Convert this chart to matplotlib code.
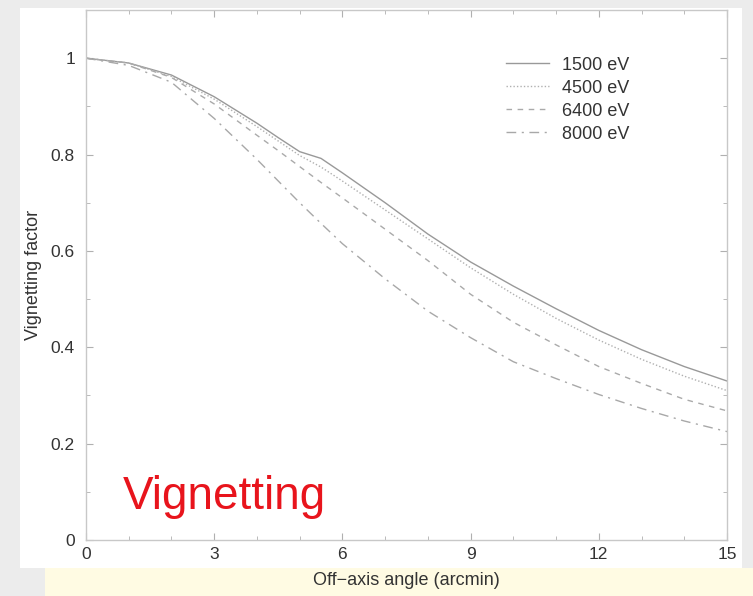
import numpy as np
import matplotlib
matplotlib.use("Agg")
import matplotlib.pyplot as plt
from matplotlib.patches import Rectangle
from matplotlib.ticker import MultipleLocator, FuncFormatter

# off-axis angle (arcmin)
angle = [0, 1, 2, 3, 4, 4.5, 5, 5.5, 6, 7, 8, 9, 10, 11, 12, 13, 14, 15]

# vignetting factor for each energy
vig_1500 = [1.0, 0.99, 0.965, 0.92, 0.865, 0.835, 0.806, 0.792, 0.762, 0.70, 0.635, 0.577,
            0.527, 0.48, 0.435, 0.395, 0.36, 0.33]
vig_4500 = [1.0, 0.99, 0.962, 0.915, 0.858, 0.828, 0.798, 0.774, 0.745, 0.685, 0.625, 0.565,
            0.51, 0.46, 0.415, 0.375, 0.34, 0.31]
vig_6400 = [1.0, 0.99, 0.96, 0.905, 0.84, 0.808, 0.775, 0.742, 0.71, 0.645, 0.58, 0.51,
            0.452, 0.405, 0.36, 0.325, 0.292, 0.268]
vig_8000 = [1.0, 0.985, 0.95, 0.875, 0.79, 0.745, 0.70, 0.657, 0.615, 0.542, 0.475, 0.42,
            0.37, 0.335, 0.302, 0.273, 0.247, 0.225]

labels = ["1500 eV", "4500 eV", "6400 eV", "8000 eV"]

plt.rcParams['font.family'] = ['Liberation Sans', 'DejaVu Sans']

fig = plt.figure(figsize=(7.53, 5.96), dpi=100, facecolor='#ececec')

# slide-like backdrop: white page and pale yellow strip at the bottom
fig.patches.append(Rectangle((20 / 753, 1 - 568 / 596), 722 / 753, 560 / 596,
                             transform=fig.transFigure, facecolor='white',
                             edgecolor='none', zorder=-2))
fig.patches.append(Rectangle((45 / 753, 0), 708 / 753, 28 / 596,
                             transform=fig.transFigure, facecolor='#fffbe3',
                             edgecolor='none', zorder=-2))

ax = fig.add_axes([86 / 753, 1 - 540 / 596, 641 / 753, 530 / 596])
ax.set_facecolor('white')

ax.plot(angle, vig_1500, color='#999999', lw=1.0, ls='-', label=labels[0])
ax.plot(angle, vig_4500, color='#b0b0b0', lw=1.0, ls=(0, (1, 1.5)), label=labels[1])
ax.plot(angle, vig_6400, color='#aaaaaa', lw=1.0, ls=(0, (4, 4)), label=labels[2])
ax.plot(angle, vig_8000, color='#a8a8a8', lw=1.0, ls=(0, (7, 4, 1.5, 4)), label=labels[3])

ax.set_xlim(0, 15)
ax.set_ylim(0, 1.1)
ax.xaxis.set_major_locator(MultipleLocator(3))
ax.xaxis.set_minor_locator(MultipleLocator(1))
ax.yaxis.set_major_locator(MultipleLocator(0.2))
ax.yaxis.set_minor_locator(MultipleLocator(0.1))
ax.yaxis.set_major_formatter(FuncFormatter(lambda v, p: f"{v:g}"))

for side in ax.spines.values():
    side.set_color('#c8c8c8')
    side.set_linewidth(1.0)

ax.tick_params(which='both', direction='in', top=True, right=True, color='#b0b0b0')
ax.tick_params(which='major', length=5, labelsize=12.5, labelcolor='#333333')
ax.tick_params(axis='x', which='major', pad=5)
ax.tick_params(axis='y', which='major', pad=8)
ax.tick_params(which='minor', length=3)

ax.set_xlabel("Off\u2212axis angle (arcmin)", fontsize=13, color='#333333', labelpad=7)
ax.set_ylabel("Vignetting factor", fontsize=13, color='#333333', labelpad=6)

ax.legend(loc='upper left', bbox_to_anchor=(0.655, 0.912), frameon=False,
          fontsize=13, handlelength=2.4, handletextpad=0.7, labelspacing=0.33,
          borderpad=0, borderaxespad=0, labelcolor='#333333')

ax.text(0.057, 0.04, "Vignetting", transform=ax.transAxes, fontsize=33,
        color='#e8141c', ha='left', va='bottom')

fig.savefig("out.png", dpi=100, facecolor=fig.get_facecolor())
